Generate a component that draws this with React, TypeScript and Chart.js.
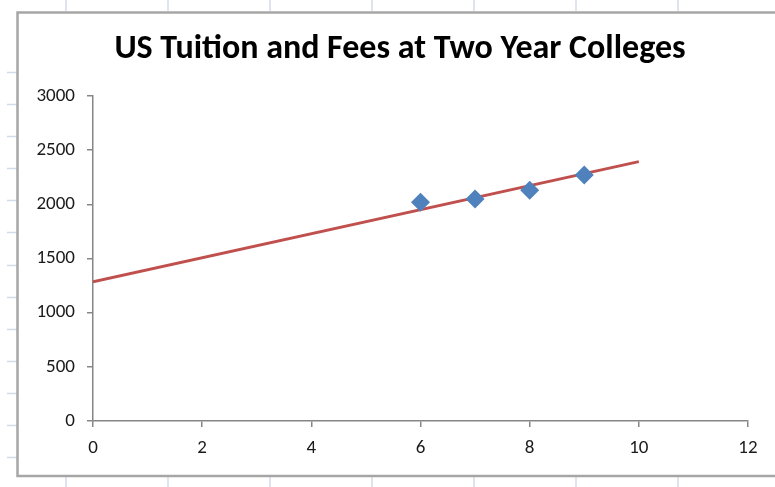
import React, { useEffect, useRef } from "react";
import { Chart, registerables } from "chart.js";

Chart.register(...registerables);

// Observed tuition & fees (year index vs. dollars)
const yearIndex = [6, 7, 8, 9];
const tuitionFees = [2020, 2050, 2130, 2270];

// Linear trend line endpoints
const trendX = [0, 10];
const trendY = [1285, 2395];

const xTicks = [0, 2, 4, 6, 8, 10, 12];
const yTicks = [0, 500, 1000, 1500, 2000, 2500, 3000];

const TITLE = "US Tuition and Fees at Two Year Colleges";
const FONT = "Calibri, Carlito, Lato, 'Open Sans', sans-serif";

// Worksheet cell-grid stubs and the chart frame behind the plot
const sheetBackdrop = {
  id: "sheetBackdrop",
  beforeDraw(chart: Chart) {
    const ctx = chart.ctx;
    const W = chart.width;
    const H = chart.height;
    ctx.save();
    ctx.fillStyle = "#ffffff";
    ctx.fillRect(0, 0, W, H);
    ctx.strokeStyle = "#d4dbe8";
    ctx.lineWidth = 1.5;
    const cols = [66, 168, 270, 372, 474, 576, 678];
    cols.forEach((x) => {
      ctx.beginPath();
      ctx.moveTo(x, 0);
      ctx.lineTo(x, 11);
      ctx.stroke();
      ctx.beginPath();
      ctx.moveTo(x, 477);
      ctx.lineTo(x, H);
      ctx.stroke();
    });
    for (let y = 72; y <= 460; y += 32.1) {
      ctx.beginPath();
      ctx.moveTo(7, Math.round(y) + 0.5);
      ctx.lineTo(17, Math.round(y) + 0.5);
      ctx.stroke();
    }
    ctx.strokeStyle = "#a6a6a6";
    ctx.lineWidth = 2.5;
    ctx.beginPath();
    ctx.moveTo(W + 5, 12.5);
    ctx.lineTo(17.5, 12.5);
    ctx.lineTo(17.5, 476);
    ctx.lineTo(W + 5, 476);
    ctx.stroke();
    ctx.restore();
  },
};

// Chart title, centred on the chart frame rather than the canvas
const frameTitle = {
  id: "frameTitle",
  afterDraw(chart: Chart) {
    const ctx = chart.ctx;
    ctx.save();
    ctx.fillStyle = "#000000";
    ctx.font = `bold 34px ${FONT}`;
    ctx.textAlign = "center";
    ctx.textBaseline = "middle";
    ctx.fillText(TITLE, 400, 49.5);
    ctx.restore();
  },
};

const plain = (v: number | string) => String(v);

export default function App() {
  const ref = useRef<HTMLCanvasElement | null>(null);

  useEffect(() => {
    const prevMargin = document.body.style.margin;
    document.body.style.margin = "0";
    const canvas = ref.current;
    if (!canvas) return;
    const chart = new Chart(canvas, {
      type: "scatter",
      data: {
        datasets: [
          {
            label: "Trend",
            type: "line",
            data: trendX.map((x, i) => ({ x, y: trendY[i] })),
            borderColor: "#c0504d",
            borderWidth: 2.8,
            pointRadius: 0,
            fill: false,
            order: 2,
          },
          {
            label: "Tuition and Fees",
            data: yearIndex.map((x, i) => ({ x, y: tuitionFees[i] })),
            pointStyle: "rectRot",
            pointRadius: 9.5,
            backgroundColor: "#4f81bd",
            borderColor: "#4f81bd",
            borderWidth: 0,
            order: 1,
          },
        ],
      },
      options: {
        animation: false,
        responsive: false,
        devicePixelRatio: 1,
        layout: { padding: { left: 0, right: 27, top: 96, bottom: 0 } },
        plugins: {
          legend: { display: false },
          tooltip: { enabled: false },
          title: { display: false },
        },
        scales: {
          x: {
            type: "linear",
            min: 0,
            max: 12,
            afterBuildTicks: (s: any) => {
              s.ticks = xTicks.map((v) => ({ value: v }));
            },
            afterFit: (s: any) => {
              s.height = 487 - 421;
            },
            grid: {
              drawOnChartArea: false,
              drawTicks: true,
              tickLength: 6,
              color: "#868686",
              lineWidth: 1.5,
            },
            border: { display: true, color: "#868686", width: 1.5 },
            ticks: {
              color: "#1a1a1a",
              font: { family: FONT, size: 19 },
              padding: 10,
              maxRotation: 0,
              callback: plain,
            },
          },
          y: {
            type: "linear",
            min: 0,
            max: 3000,
            afterBuildTicks: (s: any) => {
              s.ticks = yTicks.map((v) => ({ value: v }));
            },
            afterFit: (s: any) => {
              s.width = 93;
            },
            grid: {
              drawOnChartArea: false,
              drawTicks: true,
              tickLength: 6,
              color: "#868686",
              lineWidth: 1.5,
            },
            border: { display: true, color: "#868686", width: 1.5 },
            ticks: {
              color: "#1a1a1a",
              font: { family: FONT, size: 19 },
              padding: 12,
              callback: plain,
            },
          },
        },
      },
      plugins: [sheetBackdrop, frameTitle],
    });
    return () => {
      chart.destroy();
      document.body.style.margin = prevMargin;
    };
  }, []);

  return (
    <div style={{ width: 775, height: 487, position: "relative" }}>
      <canvas ref={ref} width={775} height={487} style={{ display: "block" }} />
    </div>
  );
}
